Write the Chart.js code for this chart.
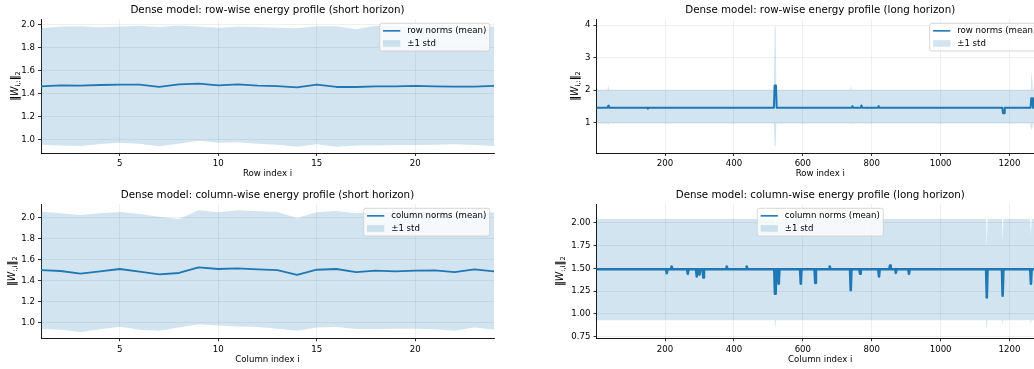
<!DOCTYPE html>
<html>
<head>
<meta charset="utf-8">
<script src="https://cdn.jsdelivr.net/npm/chart.js@4.4.0/dist/chart.umd.min.js"></script>
<style>
  html, body { margin: 0; padding: 0; background: #fff; }
  #wrap { position: relative; width: 1034px; height: 369px; overflow: hidden; }
  canvas { position: absolute; }
</style>
</head>
<body>
<div id="wrap">
  <canvas id="rowShort" width="520" height="184" style="left:0;top:0"></canvas>
  <canvas id="rowLong" width="540" height="184" style="left:520px;top:0"></canvas>
  <canvas id="colShort" width="520" height="185" style="left:0;top:184px"></canvas>
  <canvas id="colLong" width="540" height="185" style="left:520px;top:184px"></canvas>
</div>
<script>
// short horizon (24 rows / columns)
const idxShort = [1, 2, 3, 4, 5, 6, 7, 8, 9, 10, 11, 12, 13, 14, 15, 16, 17, 18, 19, 20, 21, 22, 23, 24];

const rowMeanShort  = [1.461, 1.469, 1.466, 1.472, 1.475, 1.475, 1.455, 1.478, 1.484, 1.469, 1.478, 1.466,
                       1.463, 1.452, 1.475, 1.455, 1.455, 1.461, 1.461, 1.464, 1.461, 1.458, 1.458, 1.464];
const rowUpperShort = [1.965, 1.980, 1.983, 1.974, 1.980, 1.988, 1.977, 1.990, 1.980, 1.971, 1.980, 1.977,
                       1.971, 1.965, 1.983, 1.983, 1.956, 1.988, 1.980, 1.980, 1.983, 1.980, 1.977, 1.980];
const rowLowerShort = [0.953, 0.947, 0.942, 0.960, 0.971, 0.962, 0.940, 0.962, 0.988, 0.971, 0.974, 0.962,
                       0.953, 0.936, 0.956, 0.936, 0.947, 0.947, 0.950, 0.950, 0.953, 0.956, 0.950, 0.942];

const colMeanShort  = [1.498, 1.489, 1.463, 1.486, 1.508, 1.482, 1.457, 1.470, 1.524, 1.508, 1.514, 1.505,
                       1.498, 1.453, 1.501, 1.508, 1.479, 1.492, 1.486, 1.492, 1.495, 1.479, 1.505, 1.486];
const colUpperShort = [2.053, 2.038, 2.022, 2.038, 2.050, 2.032, 2.006, 1.984, 2.067, 2.048, 2.067, 2.057,
                       2.050, 1.993, 2.048, 2.060, 2.038, 2.053, 2.048, 2.050, 2.045, 2.045, 2.048, 2.045];
const colLowerShort = [0.936, 0.930, 0.908, 0.933, 0.958, 0.930, 0.920, 0.950, 0.981, 0.970, 0.960, 0.955,
                       0.940, 0.920, 0.950, 0.955, 0.936, 0.936, 0.940, 0.940, 0.933, 0.920, 0.950, 0.930];

// long horizon (1300 rows / columns), read at the resolution of the picture
const rowLongX    = [1, 33, 35, 37, 148, 150, 152, 516, 518, 522, 524, 742, 744, 746, 768, 770, 772,
                     818, 820, 822, 1179, 1181, 1184, 1186, 1261, 1263, 1266, 1268, 1300];
const rowLongMean = [1.46, 1.46, 1.52, 1.46, 1.46, 1.43, 1.46, 1.46, 2.14, 2.14, 1.46, 1.46, 1.51, 1.46, 1.46, 1.53, 1.46,
                     1.46, 1.51, 1.46, 1.46, 1.29, 1.29, 1.46, 1.46, 1.75, 1.75, 1.46, 1.46];
const rowBandX     = [1, 33, 35, 37, 516, 518, 521, 523, 738, 740, 742, 1260, 1262, 1264, 1266, 1268, 1300];
const rowBandUpper = [2.01, 2.01, 2.16, 2.01, 2.01, 3.95, 3.95, 2.01, 2.01, 2.16, 2.01, 2.01, 2.3, 2.57, 2.3, 2.01, 2.01];
const rowBandLower = [0.97, 0.97, 0.93, 0.97, 0.97, 0.28, 0.28, 0.97, 0.97, 0.95, 0.97, 0.97, 0.85, 0.77, 0.85, 0.97, 0.97];

const colLongX = [1,
  203, 205, 207,  217, 219, 221,  264, 266, 268,  290, 292, 294,
  298, 300, 302,  309, 311, 313,  377, 379, 381,  435, 437, 439,
  517, 519, 521, 523,
  528, 530, 532,  592, 594, 596,  634, 636, 638,  676, 678, 680,
  737, 739, 741,  764, 766, 768,  819, 821, 823,  851, 853, 855,
  868, 870, 872,  906, 908, 910,  1132, 1134, 1136,  1178, 1180, 1182,
  1260, 1262, 1264,
  1300];
const colLongMean = [1.49,
  1.49, 1.445, 1.49,  1.49, 1.52, 1.49,  1.49, 1.44, 1.49,  1.49, 1.41, 1.49,
  1.49, 1.43, 1.49,   1.49, 1.40, 1.49,  1.49, 1.52, 1.49,  1.49, 1.52, 1.49,
  1.49, 1.22, 1.22, 1.49,
  1.49, 1.33, 1.49,   1.49, 1.33, 1.49,  1.49, 1.34, 1.49,  1.49, 1.52, 1.49,
  1.49, 1.26, 1.49,   1.49, 1.44, 1.49,  1.49, 1.41, 1.49,  1.49, 1.53, 1.49,
  1.49, 1.45, 1.49,   1.49, 1.44, 1.49,  1.49, 1.18, 1.49,  1.49, 1.20, 1.49,
  1.49, 1.33, 1.49,
  1.49];
const colBandX     = [1, 518, 520, 522, 1132, 1134, 1136, 1178, 1180, 1182, 1260, 1262, 1264, 1300];
const colBandUpper = [2.04, 2.04, 1.96, 2.04, 2.04, 1.73, 2.04, 2.04, 1.80, 2.04, 2.04, 1.85, 2.04, 2.04];
const colBandLower = [0.93, 0.93, 0.83, 0.93, 0.93, 0.85, 0.93, 0.93, 0.88, 0.93, 0.93, 0.90, 0.93, 0.93];

// ticks
const xTicksShort = [5, 10, 15, 20];
const xTicksLong = [200, 400, 600, 800, 1000, 1200];
const yTicksRowShort = [1.0, 1.2, 1.4, 1.6, 1.8, 2.0];
const yTicksColShort = [1.0, 1.2, 1.4, 1.6, 1.8, 2.0];
const yTicksRowLong = [1, 2, 3, 4];
const yTicksColLong = [0.75, 1.00, 1.25, 1.50, 1.75, 2.00];

const C0 = '#1f77b4';
const BAND = 'rgba(31,119,180,0.2)';
const FONT = '"DejaVu Sans"';

// texts drawn by the deco plugin, keyed by canvas id
const decoInfo = {
  rowShort: { title: 'Dense model: row-wise energy profile (short horizon)', titleY: 10,
              xlabel: 'Row index i', xlabelY: 174, ylabelX: 14.3,
              ylabel: [['‖', 'n'], ['W', 'i'], ['i,:', 's'], ['‖', 'n'], ['2', 's']],
              legend: ['row norms (mean)', '±1 std'], loc: 'ur' },
  rowLong:  { title: 'Dense model: row-wise energy profile (long horizon)', titleY: 10,
              xlabel: 'Row index i', xlabelY: 174, ylabelX: 55,
              ylabel: [['‖', 'n'], ['W', 'i'], ['i,:', 's'], ['‖', 'n'], ['2', 's']],
              legend: ['row norms (mean)', '±1 std'], loc: 'ur' },
  colShort: { title: 'Dense model: column-wise energy profile (short horizon)', titleY: 11,
              xlabel: 'Column index i', xlabelY: 176, ylabelX: 12,
              ylabel: [['‖', 'n'], ['W', 'i'], [':,i', 's'], ['‖', 'n'], ['2', 's']],
              legend: ['column norms (mean)', '±1 std'], loc: 'ur' },
  colLong:  { title: 'Dense model: column-wise energy profile (long horizon)', titleY: 11,
              xlabel: 'Column index i', xlabelY: 176, ylabelX: 40,
              ylabel: [['‖', 'n'], ['W', 'i'], [':,i', 's'], ['‖', 'n'], ['2', 's']],
              legend: ['column norms (mean)', '±1 std'], loc: 'uc' }
};

function drawYLabel(ctx, parts, x, y) {
  const fonts = { n: 'bold 9.6px ' + FONT, i: 'italic 9.6px ' + FONT, s: '6.7px ' + FONT };
  ctx.save();
  ctx.translate(x, y);
  ctx.rotate(-Math.PI / 2);
  ctx.textAlign = 'left';
  ctx.textBaseline = 'alphabetic';
  let w = 0;
  parts.forEach(p => { ctx.font = fonts[p[1]]; w += ctx.measureText(p[0]).width; });
  let px = -w / 2;
  parts.forEach(p => {
    ctx.font = fonts[p[1]];
    ctx.fillText(p[0], px, p[1] === 's' ? 5.4 : 3.4);
    px += ctx.measureText(p[0]).width;
  });
  ctx.restore();
}

function drawLegend(ctx, a, d) {
  const pad = 3.4, handle = 17.2, gap = 6.9, rowH = 8.3, space = 4.3, inset = 4.3;
  ctx.font = '8.6px ' + FONT;
  const tw = Math.max(...d.legend.map(t => ctx.measureText(t).width));
  const w = pad * 2 + handle + gap + tw;
  const h = pad * 2 + rowH * 2 + space;
  const left = d.loc === 'ur' ? a.right - inset - w : (a.left + a.right) / 2 - w / 2;
  const top = a.top + inset;
  ctx.beginPath();
  if (ctx.roundRect) ctx.roundRect(left, top, w, h, 2); else ctx.rect(left, top, w, h);
  ctx.fillStyle = 'rgba(255,255,255,0.8)';
  ctx.fill();
  ctx.strokeStyle = '#cccccc';
  ctx.lineWidth = 0.8;
  ctx.stroke();
  const y1 = top + pad + rowH / 2;
  const y2 = y1 + rowH + space;
  const hx = left + pad;
  ctx.strokeStyle = C0;
  ctx.lineWidth = 1.6;
  ctx.beginPath();
  ctx.moveTo(hx, y1);
  ctx.lineTo(hx + handle, y1);
  ctx.stroke();
  ctx.fillStyle = BAND;
  ctx.fillRect(hx, y2 - 3.3, handle, 6.6);
  ctx.fillStyle = '#000';
  ctx.textAlign = 'left';
  ctx.textBaseline = 'middle';
  ctx.fillText(d.legend[0], hx + handle + gap, y1);
  ctx.fillText(d.legend[1], hx + handle + gap, y2);
}

const deco = {
  id: 'deco',
  afterDraw(chart) {
    const d = decoInfo[chart.canvas.id];
    const ctx = chart.ctx, a = chart.chartArea;
    const cx = (a.left + a.right) / 2;
    ctx.save();
    ctx.fillStyle = '#000';
    ctx.textAlign = 'center';
    ctx.textBaseline = 'middle';
    ctx.font = '10.3px ' + FONT;
    ctx.fillText(d.title, cx, d.titleY);
    ctx.font = '8.6px ' + FONT;
    ctx.fillText(d.xlabel, cx, d.xlabelY);
    drawYLabel(ctx, d.ylabel, d.ylabelX, (a.top + a.bottom) / 2);
    drawLegend(ctx, a, d);
    ctx.restore();
  }
};

function pts(xs, ys) {
  return xs.map((x, i) => ({ x: x, y: ys[i] }));
}

function axis(min, max, ticks, dec, fit) {
  return {
    type: 'linear', min: min, max: max,
    afterBuildTicks: s => { s.ticks = ticks.map(v => ({ value: v })); },
    afterFit: fit,
    grid: { color: 'rgba(176,176,176,0.3)', lineWidth: 0.7, tickLength: 3, tickColor: '#000', tickWidth: 0.8 },
    border: { display: true, color: '#000', width: 0.9 },
    ticks: { font: { family: 'DejaVu Sans', size: 8.6 }, color: '#000', padding: 3, autoSkip: false, maxRotation: 0,
             callback: v => v.toFixed(dec) }
  };
}

function makeChart(id, p) {
  return new Chart(document.getElementById(id), {
    type: 'line',
    data: {
      datasets: [
        { data: pts(p.x, p.mean), borderColor: C0, borderWidth: p.lw, fill: false,
          borderJoinStyle: 'round', borderCapStyle: 'round' },
        { data: pts(p.bx, p.upper), borderColor: 'transparent', borderWidth: 0, backgroundColor: BAND, fill: '+1' },
        { data: pts(p.bx, p.lower), borderColor: 'transparent', borderWidth: 0, fill: false }
      ]
    },
    options: {
      responsive: false,
      animation: false,
      devicePixelRatio: 1,
      layout: { padding: { top: p.padTop, right: p.padRight, left: 0, bottom: 0 } },
      elements: { point: { radius: 0 }, line: { tension: 0 } },
      plugins: { legend: { display: false }, tooltip: { enabled: false } },
      scales: {
        x: axis(p.xmin, p.xmax, p.xticks, 0, s => { s.height = p.xH; }),
        y: axis(p.ymin, p.ymax, p.yticks, p.ydec, s => { s.width = p.yW; })
      }
    },
    plugins: [deco]
  });
}

makeChart('rowShort', {
  x: idxShort, mean: rowMeanShort, bx: idxShort, upper: rowUpperShort, lower: rowLowerShort, lw: 1.8,
  xmin: 1, xmax: 24, xticks: xTicksShort, ymin: 0.881, ymax: 2.046, yticks: yTicksRowShort, ydec: 1,
  padTop: 19, padRight: 26, yW: 41, xH: 31
});
makeChart('rowLong', {
  x: rowLongX, mean: rowLongMean, bx: rowBandX, upper: rowBandUpper, lower: rowBandLower, lw: 2,
  xmin: 1, xmax: 1300, xticks: xTicksLong, ymin: 0.065, ymax: 4.19, yticks: yTicksRowLong, ydec: 0,
  padTop: 19, padRight: 16, yW: 76.5, xH: 31
});
makeChart('colShort', {
  x: idxShort, mean: colMeanShort, bx: idxShort, upper: colUpperShort, lower: colLowerShort, lw: 1.8,
  xmin: 1, xmax: 24, xticks: xTicksShort, ymin: 0.848, ymax: 2.127, yticks: yTicksColShort, ydec: 1,
  padTop: 20, padRight: 26, yW: 41, xH: 30.7
});
makeChart('colLong', {
  x: colLongX, mean: colLongMean, bx: colBandX, upper: colBandUpper, lower: colBandLower, lw: 2.6,
  xmin: 1, xmax: 1300, xticks: xTicksLong, ymin: 0.732, ymax: 2.205, yticks: yTicksColLong, ydec: 2,
  padTop: 20, padRight: 16, yW: 76.5, xH: 30.7
});
</script>
</body>
</html>
